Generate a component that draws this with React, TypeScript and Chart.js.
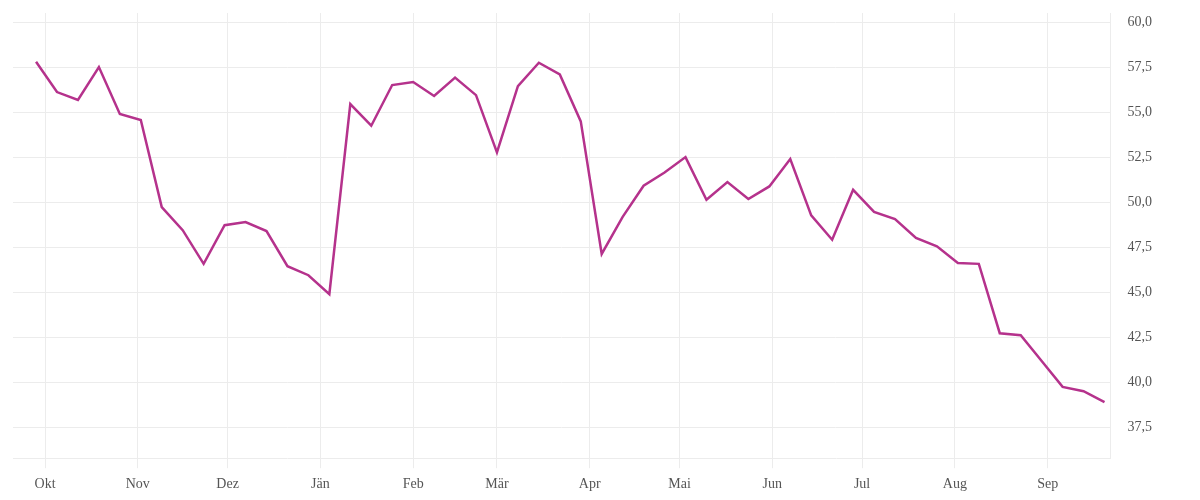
import React, { useEffect, useRef } from "react";
import { Chart, registerables } from "chart.js";

Chart.register(...registerables);

const dates: string[] = [
  "2022-09-28", "2022-10-05", "2022-10-12", "2022-10-19", "2022-10-26",
  "2022-11-02", "2022-11-09", "2022-11-16", "2022-11-23", "2022-11-30",
  "2022-12-07", "2022-12-14", "2022-12-21", "2022-12-28",
  "2023-01-04", "2023-01-11", "2023-01-18", "2023-01-25",
  "2023-02-01", "2023-02-08", "2023-02-15", "2023-02-22",
  "2023-03-01", "2023-03-08", "2023-03-15", "2023-03-22", "2023-03-29",
  "2023-04-05", "2023-04-12", "2023-04-19", "2023-04-26",
  "2023-05-03", "2023-05-10", "2023-05-17", "2023-05-24", "2023-05-31",
  "2023-06-07", "2023-06-14", "2023-06-21", "2023-06-28",
  "2023-07-05", "2023-07-12", "2023-07-19", "2023-07-26",
  "2023-08-02", "2023-08-09", "2023-08-16", "2023-08-23", "2023-08-30",
  "2023-09-06", "2023-09-13", "2023-09-20",
];

const values: number[] = [
  57.79, 56.11, 55.67, 57.5, 54.89,
  54.56, 49.72, 48.44, 46.57, 48.72,
  48.89, 48.39, 46.44, 45.94,
  44.89, 55.44, 54.24, 56.5,
  56.67, 55.89, 56.91, 55.94,
  52.76, 56.44, 57.74, 57.09, 54.48,
  47.12, 49.18, 50.91, 51.64,
  52.5, 50.13, 51.11, 50.17, 50.87,
  52.39, 49.26, 47.91, 50.68,
  49.46, 49.06, 48.01, 47.55,
  46.62, 46.57, 42.72, 42.61, 41.18,
  39.74, 39.5, 38.89,
];

const monthStarts: string[] = [
  "2022-10-01", "2022-11-01", "2022-12-01", "2023-01-01", "2023-02-01", "2023-03-01",
  "2023-04-01", "2023-05-01", "2023-06-01", "2023-07-01", "2023-08-01", "2023-09-01",
];
const monthLabels: string[] = ["Okt", "Nov", "Dez", "Jän", "Feb", "Mär", "Apr", "Mai", "Jun", "Jul", "Aug", "Sep"];

const ORIGIN = Date.UTC(2022, 9, 1);
function dayOf(s: string): number {
  const [y, m, d] = s.split("-").map(Number);
  return Math.round((Date.UTC(y, m - 1, d) - ORIGIN) / 86400000);
}

const GRID = "#ececec";
const TEXT = "#555555";
const FONT = { family: "'Liberation Serif', 'DejaVu Serif', serif", size: 14 };

export default function App() {
  const ref = useRef<HTMLCanvasElement | null>(null);
  useEffect(() => {
    if (!ref.current) return;
    const monthDays = monthStarts.map(dayOf);
    const points = dates.map((d, i) => ({ x: dayOf(d), y: values[i] }));
    const chart = new Chart(ref.current, {
      type: "line",
      data: {
        datasets: [
          {
            data: points,
            borderColor: "#b5328c",
            borderWidth: 2.5,
            pointRadius: 0,
            tension: 0,
            fill: false,
          },
        ],
      },
      options: {
        animation: false,
        responsive: true,
        maintainAspectRatio: false,
        layout: { padding: { left: 5, top: 5, right: 23, bottom: -9 } },
        plugins: { legend: { display: false }, tooltip: { enabled: false } },
        scales: {
          x: {
            type: "linear",
            min: -10.7,
            max: 356,
            afterBuildTicks: (axis: any) => {
              axis.ticks = monthDays.map((v) => ({ value: v }));
            },
            ticks: {
              color: TEXT,
              font: FONT,
              padding: 8,
              maxRotation: 0,
              autoSkip: false,
              callback: (value: any) => {
                const idx = monthDays.indexOf(Number(value));
                return idx >= 0 ? monthLabels[idx] : "";
              },
            },
            grid: { color: GRID, drawTicks: true, tickLength: 10, tickColor: GRID, lineWidth: 1 },
            border: { color: GRID },
          },
          y: {
            type: "linear",
            position: "right",
            min: 35.78,
            max: 60.5,
            afterFit: (scale: any) => {
              scale.paddingTop = 0;
              scale.paddingBottom = 0;
            },
            ticks: {
              stepSize: 2.5,
              includeBounds: false,
              color: TEXT,
              font: FONT,
              padding: 17,
              callback: (value: any) => Number(value).toFixed(1).replace(".", ","),
            },
            grid: { color: GRID, drawTicks: false, lineWidth: 1 },
            border: { color: GRID },
          },
        },
      },
    });
    return () => chart.destroy();
  }, []);
  return (
    <div style={{ width: "100%", height: 484, position: "relative" }}>
      <canvas ref={ref} />
    </div>
  );
}
